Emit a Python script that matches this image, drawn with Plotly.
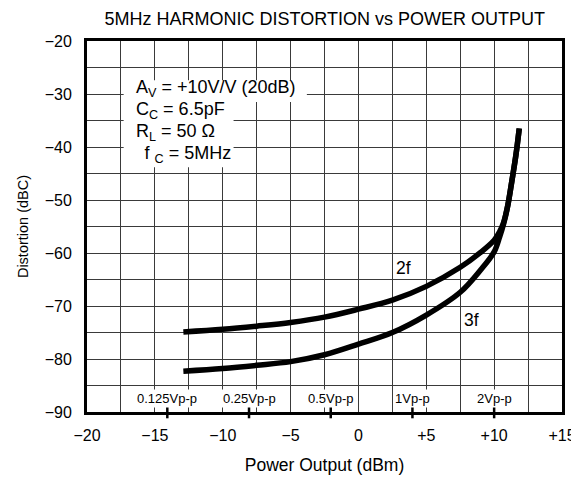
import numpy as np
import plotly.graph_objects as go

# ---- data ----
x_2f = [-12.9, -10, -7.5, -5, -2.5, 0, 2.5, 5, 7.5, 9, 10, 10.4, 10.7, 11.0, 11.3, 11.6, 11.85]
y_2f = [-74.9, -74.4, -73.8, -73.1, -72.1, -70.6, -68.9, -66.3, -62.7, -59.9, -57.6, -56.0, -54.2, -51.1, -46.5, -41.6, -36.5]
x_3f = [-12.9, -10, -7.5, -5, -2.5, 0, 2.5, 5, 7.5, 9, 10, 10.4, 10.7, 11.0, 11.3, 11.6, 11.85]
y_3f = [-82.3, -81.8, -81.2, -80.5, -79.2, -77.2, -75.0, -71.7, -67.4, -63.2, -59.8, -57.0, -54.5, -51.1, -46.5, -41.6, -36.5]

vpp_labels = ["0.125Vp-p", "0.25Vp-p", "0.5Vp-p", "1Vp-p", "2Vp-p"]
vpp_values = [0.125, 0.25, 0.5, 1.0, 2.0]
R_load = 50.0
vpp_dbm = [10 * np.log10(((v / 2 / np.sqrt(2)) ** 2 / R_load) / 1e-3) for v in vpp_values]

x_ticks = [-20, -15, -10, -5, 0, 5, 10, 15]
x_ticktext = ["\u221220", "\u221215", "\u221210", "\u22125", "0", "+5", "+10", "+15"]
y_ticks = [-20, -30, -40, -50, -60, -70, -80, -90]
y_ticktext = ["\u221220", "\u221230", "\u221240", "\u221250", "\u221260", "\u221270", "\u221280", "\u221290"]

cond_lines = ["A<sub>V</sub> = +10V/V (20dB)", "C<sub>C</sub> = 6.5pF",
              "R<sub>L</sub> = 50 \u03a9", "\u2009 f <sub>C</sub> = 5MHz"]

FONT = "Liberation Sans, Arial, sans-serif"
GRID = "#3a3a3a"

fig = go.Figure()
for xs, ys in [(x_2f, y_2f), (x_3f, y_3f)]:
    fig.add_trace(go.Scatter(x=xs, y=ys, mode="lines",
                             line=dict(color="black", width=5.5, shape="spline", smoothing=1.0),
                             showlegend=False, hoverinfo="skip"))

# Vp-p tick marks on bottom axis
fig.add_trace(go.Scatter(x=vpp_dbm, y=[-90] * len(vpp_dbm), mode="markers",
                         marker=dict(symbol="line-ns", size=9, line=dict(color="black", width=2.5)),
                         cliponaxis=False, showlegend=False, hoverinfo="skip"))

# white backing boxes behind the conditions text
fig.add_shape(type="rect", xref="x", yref="y", x0=-17.3, x1=-3.8, y0=-31.5, y1=-27.4,
              fillcolor="white", line=dict(width=0), layer="above")
fig.add_shape(type="rect", xref="x", yref="y", x0=-17.3, x1=-9.2, y0=-43.8, y1=-31.5,
              fillcolor="white", line=dict(width=0), layer="above")

annotations = []
for lab, xv in zip(vpp_labels, vpp_dbm):
    annotations.append(dict(x=xv, y=-87.5, text=lab, showarrow=False,
                            font=dict(family=FONT, size=13, color="black"),
                            bgcolor="white", borderpad=1, xanchor="center", yanchor="middle"))

cond_y = [-29.0, -33.1, -37.2, -41.5]
for t, yv in zip(cond_lines, cond_y):
    annotations.append(dict(x=-16.5, y=yv, text=t, showarrow=False, xanchor="left", yanchor="middle",
                            font=dict(family=FONT, size=18, color="black"), borderpad=0))

annotations.append(dict(x=3.3, y=-62.9, text="2f", showarrow=False,
                        font=dict(family=FONT, size=17.5, color="black")))
annotations.append(dict(x=8.3, y=-72.7, text="3f", showarrow=False,
                        font=dict(family=FONT, size=17.5, color="black")))

fig.update_layout(
    width=579, height=477,
    margin=dict(l=79, r=25, t=33, b=73),
    paper_bgcolor="white", plot_bgcolor="white",
    font=dict(family=FONT, size=16, color="black"),
    title=dict(text="5MHz HARMONIC DISTORTION vs POWER OUTPUT", x=0.547, xanchor="center",
               y=0.977, yanchor="middle", font=dict(family=FONT, size=18, color="black")),
    annotations=annotations,
)
fig.update_xaxes(range=[-20, 15], tickvals=x_ticks, ticktext=x_ticktext,
                 showgrid=True, gridcolor=GRID, gridwidth=1,
                 minor=dict(dtick=2.5, tick0=-20, showgrid=True, gridcolor=GRID, gridwidth=1),
                 showline=True, linecolor="black", linewidth=3, mirror=True,
                 ticks="", zeroline=False, ticklabelstandoff=7, automargin=False,
                 title=dict(text="Power Output (dBm)", standoff=16, font=dict(size=17.5)),
                 tickfont=dict(size=16))
fig.update_yaxes(range=[-90, -20], tickvals=y_ticks, ticktext=y_ticktext,
                 showgrid=True, gridcolor=GRID, gridwidth=1,
                 minor=dict(dtick=5, tick0=-90, showgrid=True, gridcolor=GRID, gridwidth=1),
                 showline=True, linecolor="black", linewidth=3, mirror=True,
                 ticks="", zeroline=False, ticklabelstandoff=9, automargin=False,
                 title=dict(text="Distortion (dBC)", standoff=13, font=dict(size=14.5)),
                 tickfont=dict(size=16))

fig.write_html("out.html")
